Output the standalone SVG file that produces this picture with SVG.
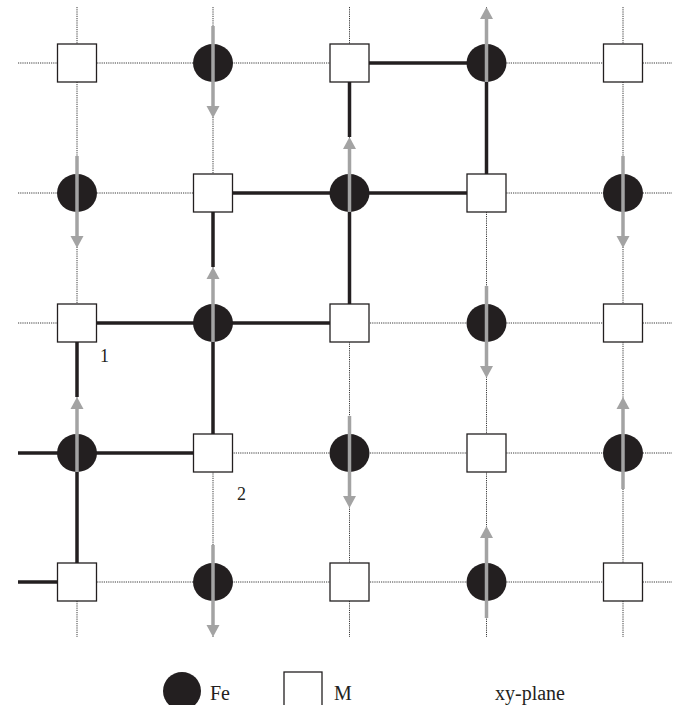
<svg xmlns="http://www.w3.org/2000/svg" width="688" height="705" viewBox="0 0 688 705">
<style>
.grid{stroke:#3a3a3a;stroke-width:1;stroke-dasharray:1.2 1;fill:none}
.bond{stroke:#231f20;stroke-width:3.5;fill:none}
.fe{fill:#231f20}
.m{fill:#fff;stroke:#231f20;stroke-width:1.3}
.spin{stroke:#a3a3a3;stroke-width:3.5;fill:none}
.head{fill:#a3a3a3}
text{font-family:"Liberation Serif","Times New Roman",serif;fill:#231f20}
</style>
<defs>
<ellipse id="fe" class="fe" cx="0" cy="0" rx="20" ry="19"/>
<rect id="m" class="m" x="-19.5" y="-19" width="39" height="38"/>
<g id="down"><line class="spin" x1="0" y1="-37" x2="0" y2="44"/><polygon class="head" points="-6.5,43 6.5,43 0,55"/></g>
<g id="upb"><line class="spin" x1="0" y1="19" x2="0" y2="-45"/><polygon class="head" points="-6.5,-44 6.5,-44 0,-56"/></g>
<g id="up"><line class="spin" x1="0" y1="36" x2="0" y2="-45"/><polygon class="head" points="-6.5,-44 6.5,-44 0,-56"/></g>
</defs>
<g id="grid">
<line class="grid" x1="18" y1="63" x2="672" y2="63"/>
<line class="grid" x1="18" y1="193" x2="672" y2="193"/>
<line class="grid" x1="18" y1="323" x2="672" y2="323"/>
<line class="grid" x1="18" y1="453" x2="672" y2="453"/>
<line class="grid" x1="18" y1="582" x2="672" y2="582"/>
<line class="grid" x1="77" y1="7" x2="77" y2="637"/>
<line class="grid" x1="213" y1="7" x2="213" y2="637"/>
<line class="grid" x1="349.5" y1="7" x2="349.5" y2="637"/>
<line class="grid" x1="486.5" y1="7" x2="486.5" y2="637"/>
<line class="grid" x1="623" y1="7" x2="623" y2="637"/>
</g>
<g id="connectors">
<line class="bond" x1="369" y1="63" x2="487" y2="63"/>
<line class="bond" x1="349.5" y1="82" x2="349.5" y2="137"/>
<line class="bond" x1="486.5" y1="63" x2="486.5" y2="174"/>
<line class="bond" x1="232" y1="193" x2="467" y2="193"/>
<line class="bond" x1="213" y1="212" x2="213" y2="267"/>
<line class="bond" x1="349.5" y1="193" x2="349.5" y2="304"/>
<line class="bond" x1="96" y1="323" x2="330" y2="323"/>
<line class="bond" x1="77" y1="342" x2="77" y2="397"/>
<line class="bond" x1="213" y1="323" x2="213" y2="434"/>
<line class="bond" x1="18" y1="453" x2="194" y2="453"/>
<line class="bond" x1="77" y1="453" x2="77" y2="563"/>
<line class="bond" x1="18" y1="582" x2="58" y2="582"/>
</g>
<g id="n00"><use href="#m" x="77" y="63"/></g>
<g id="n10"><use href="#fe" x="213" y="63"/><use href="#down" x="213" y="63"/></g>
<g id="n20"><use href="#m" x="349.5" y="63"/></g>
<g id="n30"><use href="#fe" x="486.5" y="63"/><use href="#upb" x="486.5" y="63"/></g>
<g id="n40"><use href="#m" x="623" y="63"/></g>
<g id="n01"><use href="#fe" x="77" y="193"/><use href="#down" x="77" y="193"/></g>
<g id="n11"><use href="#m" x="213" y="193"/></g>
<g id="n21"><use href="#fe" x="349.5" y="193"/><use href="#upb" x="349.5" y="193"/></g>
<g id="n31"><use href="#m" x="486.5" y="193"/></g>
<g id="n41"><use href="#fe" x="623" y="193"/><use href="#down" x="623" y="193"/></g>
<g id="n02"><use href="#m" x="77" y="323"/></g>
<g id="n12"><use href="#fe" x="213" y="323"/><use href="#upb" x="213" y="323"/></g>
<g id="n22"><use href="#m" x="349.5" y="323"/></g>
<g id="n32"><use href="#fe" x="486.5" y="323"/><use href="#down" x="486.5" y="323"/></g>
<g id="n42"><use href="#m" x="623" y="323"/></g>
<g id="n03"><use href="#fe" x="77" y="453"/><use href="#upb" x="77" y="453"/></g>
<g id="n13"><use href="#m" x="213" y="453"/></g>
<g id="n23"><use href="#fe" x="349.5" y="453"/><use href="#down" x="349.5" y="453"/></g>
<g id="n33"><use href="#m" x="486.5" y="453"/></g>
<g id="n43"><use href="#fe" x="623" y="453"/><use href="#up" x="623" y="453"/></g>
<g id="n04"><use href="#m" x="77" y="582"/></g>
<g id="n14"><use href="#fe" x="213" y="582"/><use href="#down" x="213" y="582"/></g>
<g id="n24"><use href="#m" x="349.5" y="582"/></g>
<g id="n34"><use href="#fe" x="486.5" y="582"/><use href="#up" x="486.5" y="582"/></g>
<g id="n44"><use href="#m" x="623" y="582"/></g>
<g id="labels">
<text x="100" y="362" font-size="18">1</text>
<text x="237" y="500" font-size="18">2</text>
</g>
<g id="legend">
<ellipse class="fe" cx="182" cy="691" rx="19" ry="19"/>
<text x="210" y="700" font-size="20">Fe</text>
<rect class="m" x="284" y="672" width="38" height="40"/>
<text x="334" y="700" font-size="20">M</text>
<text x="495" y="700" font-size="20">xy-plane</text>
</g>
</svg>
